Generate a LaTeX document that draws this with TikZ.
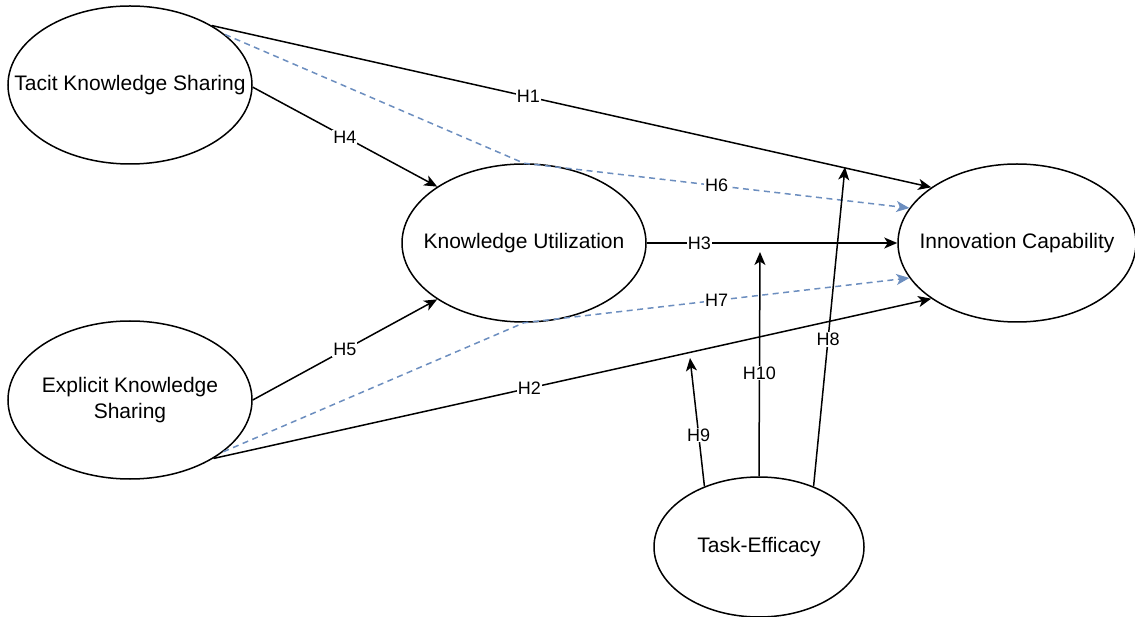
\documentclass[tikz,border=0pt]{standalone}
\usepackage{fontspec}
\setmainfont{Liberation Sans}
\usetikzlibrary{shapes.geometric,arrows.meta,positioning}
\definecolor{medblue}{HTML}{6C8EBF}

\begin{document}
\begin{tikzpicture}[x=1pt,y=-1pt,on grid,
  >={Stealth[length=13pt,width=11pt,inset=3.5pt]},
  construct/.style={draw,ellipse,line width=1.5pt,minimum width=244pt,minimum height=158pt,inner sep=0pt,
    label={[font=\fontsize{21}{26}\selectfont,align=center]center:#1}},
  hyp/.style={fill=white,text=black,inner sep=1pt,font=\fontsize{18}{20}\selectfont},
  direct/.style={->,line width=1.5pt},
  mediated/.style={->,line width=1.5pt,medblue,dash pattern=on 6pt off 4.5pt}]
\useasboundingbox (0,0) rectangle (1135,617);
\node[construct={Tacit Knowledge Sharing}] (tks) at (130,85) {};
\node[construct={Knowledge Utilization}] (ku) [below right=158pt and 394pt of tks] {};
\node[construct={Innovation Capability},minimum width=238pt] (ic) [right=493pt of ku] {};
\node[construct={Explicit Knowledge\\Sharing}] (eks) [below=315pt of tks] {};
\node[construct={Task-Efficacy},minimum width=210pt,minimum height=140pt] (te) [below right=304pt and 235pt of ku] {};
% moderation targets
\coordinate (h8tip) at (845,167);
\coordinate (h9tip) at (690,358);
\coordinate (h10tip) at (760,252);
\draw[mediated] (tks.28) -- (ku.north) -- node[hyp,pos=.5] {H6} (ic.162);
\draw[mediated] (eks.331) -- (ku.south) -- node[hyp,pos=.5] {H7} (ic.198);
\path[direct]
	(tks.36) edge node[hyp,pos=.44] {H1} (ic.147)
	(tks.359) edge node[hyp] {H4} (ku.147)
	(eks.east) edge node[hyp] {H5} (ku.213)
	(eks.325) edge node[hyp,pos=.44] {H2} (ic.213)
	(ku.east) edge node[hyp,pos=.21] {H3} (ic.west)
	(te.48) edge node[hyp,pos=.46] {H8} (h8tip)
	(te.132) edge node[hyp,pos=.4] {H9} (h9tip)
	(te.north) edge node[hyp,pos=.46] {H10} (h10tip);
\end{tikzpicture}
\end{document}
